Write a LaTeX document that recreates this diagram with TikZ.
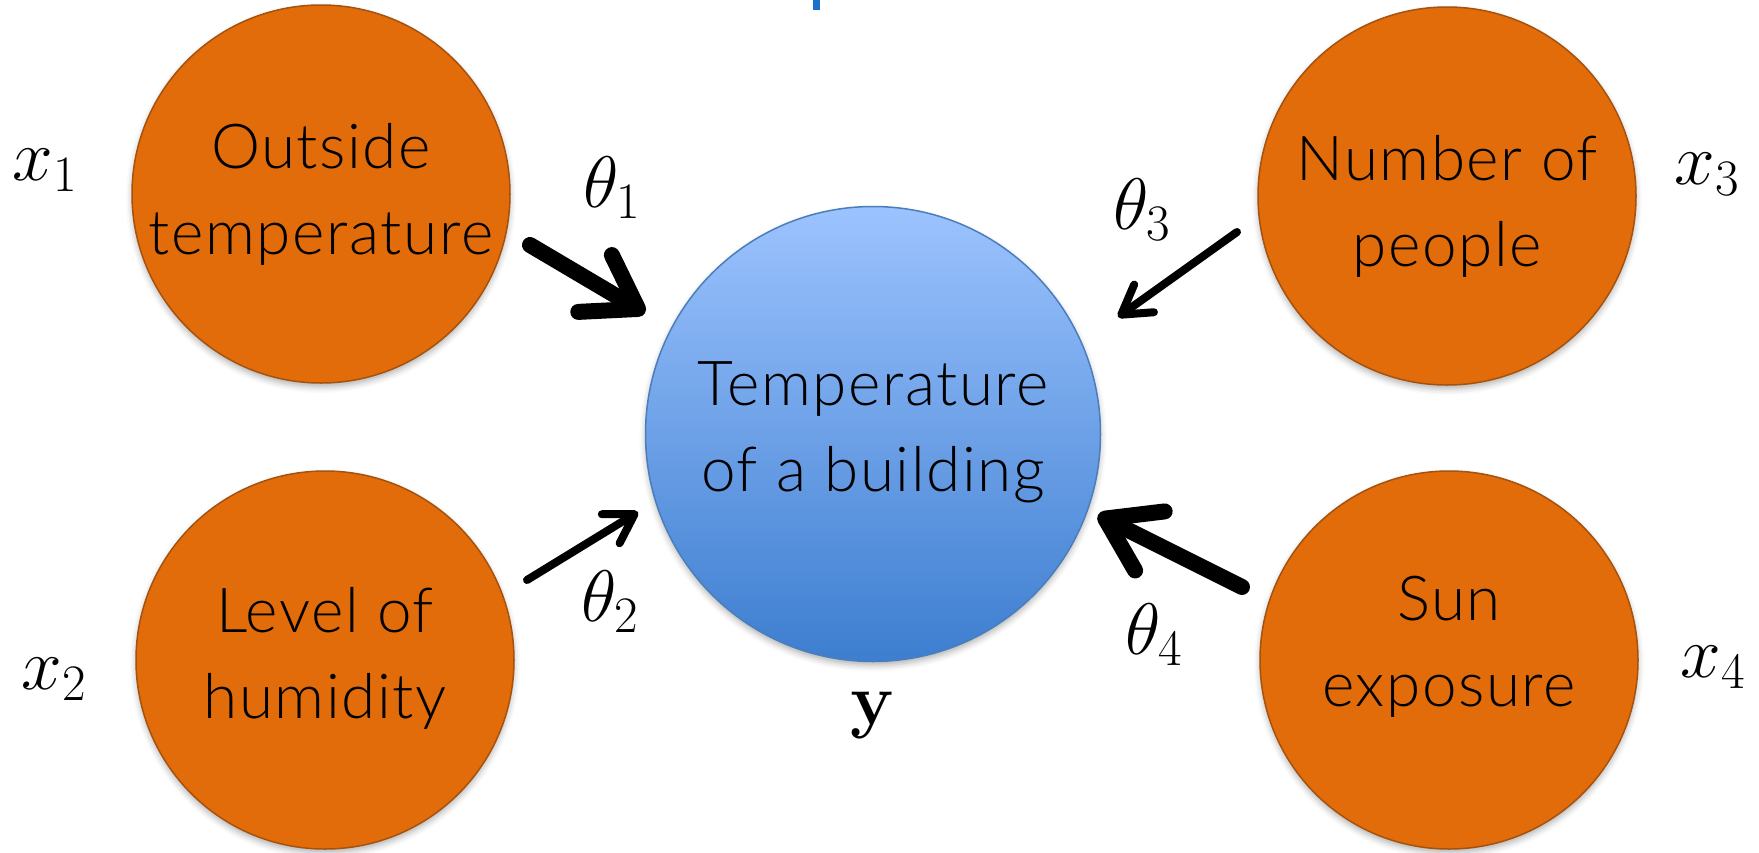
\RequirePackage{fix-cm}
\documentclass[tikz,border=0pt]{standalone}
\usepackage[no-math]{fontspec}
\setmainfont{Lato Light}[LetterSpace=2.5]
\usetikzlibrary{arrows.meta,shadows.blur}
\definecolor{orfill}{HTML}{E36C0A}
\definecolor{ordraw}{HTML}{A5520E}
\definecolor{bltop}{HTML}{9CC3FE}
\definecolor{blbot}{HTML}{3D7ED0}
\definecolor{bldraw}{HTML}{4A7EBB}
\definecolor{barblue}{HTML}{1A72C9}
\begin{document}
\begin{tikzpicture}[x=1pt,y=-1pt,
  txt/.style={font=\fontsize{62}{86}\selectfont,align=center,inner sep=0pt},
  feat/.style={circle,fill=orfill,draw=ordraw,line width=1.5pt,minimum size=378pt,inner sep=0pt,
    blur shadow={shadow xshift=0pt,shadow yshift=-4pt,shadow blur radius=6pt,shadow opacity=30}},
  target/.style={circle,top color=bltop,bottom color=blbot,draw=bldraw,line width=1.5pt,minimum size=455pt,inner sep=0pt,
    blur shadow={shadow xshift=0pt,shadow yshift=-4pt,shadow blur radius=6pt,shadow opacity=30}},
  mlab/.style={font=\fontsize{73}{86}\selectfont,inner sep=0pt},
  thickarrow/.style={line width=16pt,line cap=round,-{Straight Barb[length=50pt,width=66pt,round]}},
  thinarrow/.style={line width=8pt,line cap=round,-{Straight Barb[length=28pt,width=34pt,round]}},
]
\useasboundingbox (0,0) rectangle (1759,852);
\fill[barblue] (813,0) rectangle (820,10);

\node[feat] (f1) at (321,194) {};
\node[feat] (f2) at (325,660) {};
\node[feat] (f3) at (1447,196) {};
\node[feat] (f4) at (1449,660) {};
\node[target] (t) at (873,434) {};

\node[txt] (f1t) at (f1.center) {Outside\\temperature};
\node[txt] (f2t) at ([yshift=2pt]f2.center) {Level of\\humidity};
\node[txt] (f3t) at ([yshift=-10pt]f3.center) {Number of\\people};
\node[txt] (f4t) at ([yshift=13pt]f4.center) {Sun\\exposure};
\node[txt] (tt) at ([yshift=2pt]t.center) {Temperature\\of a building};

\node[mlab] (x1) at (45,170) {$x_1$};
\node[mlab] (x2) at (54,679) {$x_2$};
\node[mlab] (x3) at (1707,174) {$x_3$};
\node[mlab] (x4) at (1713,667) {$x_4$};
\node[mlab] (th1) at (612,188) {$\theta_1$};
\node[mlab] (th2) at (610,602) {$\theta_2$};
\node[mlab] (th3) at (1142,210) {$\theta_3$};
\node[mlab] (th4) at (1154,635) {$\theta_4$};
\node[mlab] (y) at (873,715) {$\mathbf{y}$};

\coordinate (a1s) at (530,245); \coordinate (a1e) at (645,313);
\coordinate (a2s) at (527,580); \coordinate (a2e) at (638,512);
\coordinate (a3s) at (1237,232); \coordinate (a3e) at (1118,317);
\coordinate (a4s) at (1242,587); \coordinate (a4e) at (1098,515);

\draw[thickarrow] (a1s) -- (a1e);
\draw[thinarrow] (a2s) -- (a2e);
\draw[thinarrow] (a3s) -- (a3e);
\draw[thickarrow] (a4s) -- (a4e);
\end{tikzpicture}
\end{document}
